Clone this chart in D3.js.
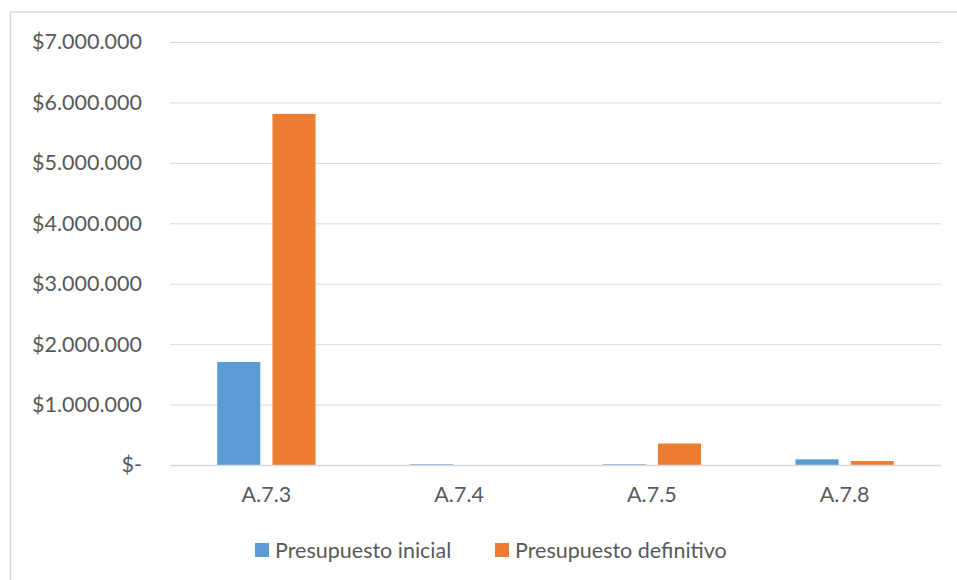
<!DOCTYPE html>
<html>
<head>
<meta charset="utf-8">
<script src="https://cdn.jsdelivr.net/npm/d3@7"></script>
<style>
  html, body { margin: 0; padding: 0; background: #ffffff; }
  svg { display: block; }
  text { font-family: Lato, "Open Sans", sans-serif; fill: #595959; }
</style>
</head>
<body>
<svg id="chart" width="957" height="580"></svg>
<script>
// Budget lines and amounts
const categories = ["A.7.3", "A.7.4", "A.7.5", "A.7.8"];
const seriesNames = ["Presupuesto inicial", "Presupuesto definitivo"];
const presupuestoInicial = [1705000, 12000, 12000, 94000];
const presupuestoDefinitivo = [5810000, 0, 355000, 66000];
const yTicks = [0, 1000000, 2000000, 3000000, 4000000, 5000000, 6000000, 7000000];
const colors = ["#5b9bd5", "#ed7d31"];

const rows = categories.map((c, i) => ({
  category: c,
  values: [presupuestoInicial[i], presupuestoDefinitivo[i]]
}));

const FONT = "21.5px";
const svg = d3.select("#chart");

// Chart frame
svg.append("rect")
  .attr("x", 10.5).attr("y", 12)
  .attr("width", 1000).attr("height", 1000)
  .attr("fill", "none")
  .attr("stroke", "#d9d9d9")
  .attr("stroke-width", 1.5);

const plot = { left: 170, right: 941, top: 42, bottom: 465 };

const x0 = d3.scaleBand()
  .domain(categories)
  .range([plot.left, plot.right])
  .paddingInner(0.49)
  .paddingOuter(0.245);

const x1 = d3.scaleBand()
  .domain(d3.range(seriesNames.length))
  .range([0, x0.bandwidth()])
  .paddingInner(0.22);

const y = d3.scaleLinear()
  .domain([0, 7000000])
  .range([plot.bottom, plot.top]);

const locale = d3.formatLocale({ decimal: ",", thousands: ".", grouping: [3], currency: ["$", ""] });
const money = locale.format("$,.0f");
const fmt = v => v === 0 ? "$-" : money(v);

// Gridlines and tick labels
const yAxis = d3.axisLeft(y)
  .tickValues(yTicks)
  .tickFormat(fmt)
  .tickSize(-(plot.right - plot.left))
  .tickPadding(28);

const gy = svg.append("g")
  .attr("transform", `translate(${plot.left},0)`)
  .call(yAxis);
gy.select(".domain").remove();
gy.selectAll(".tick line")
  .attr("stroke", "#d9d9d9")
  .attr("stroke-width", 1);
gy.selectAll(".tick text")
  .attr("fill", "#595959")
  .style("font-size", FONT)
  .style("font-family", "Lato, 'Open Sans', sans-serif");

// Bars
const groups = svg.append("g")
  .selectAll("g")
  .data(rows)
  .join("g")
  .attr("transform", d => `translate(${x0(d.category)},0)`);

groups.selectAll("rect")
  .data(d => d.values.map((v, i) => ({ i, v })))
  .join("rect")
  .attr("x", d => x1(d.i))
  .attr("width", x1.bandwidth())
  .attr("y", d => y(d.v))
  .attr("height", d => y(0) - y(d.v))
  .attr("fill", d => colors[d.i]);

// Category axis
const xAxis = d3.axisBottom(x0).tickSize(0).tickPadding(22);
const gx = svg.append("g")
  .attr("transform", `translate(0,${plot.bottom})`)
  .call(xAxis);
gx.select(".domain")
  .attr("stroke", "#d9d9d9")
  .attr("stroke-width", 1.5);
gx.selectAll(".tick text")
  .attr("fill", "#595959")
  .style("font-size", FONT)
  .style("font-family", "Lato, 'Open Sans', sans-serif");

// Legend
const legendX = [255, 495];
const legend = svg.append("g")
  .selectAll("g")
  .data(seriesNames)
  .join("g")
  .attr("transform", (d, i) => `translate(${legendX[i]},543)`);
legend.append("rect")
  .attr("width", 14).attr("height", 14)
  .attr("fill", (d, i) => colors[i]);
legend.append("text")
  .attr("x", 20).attr("y", 14.5)
  .style("font-size", FONT)
  .text(d => d);
</script>
</body>
</html>
